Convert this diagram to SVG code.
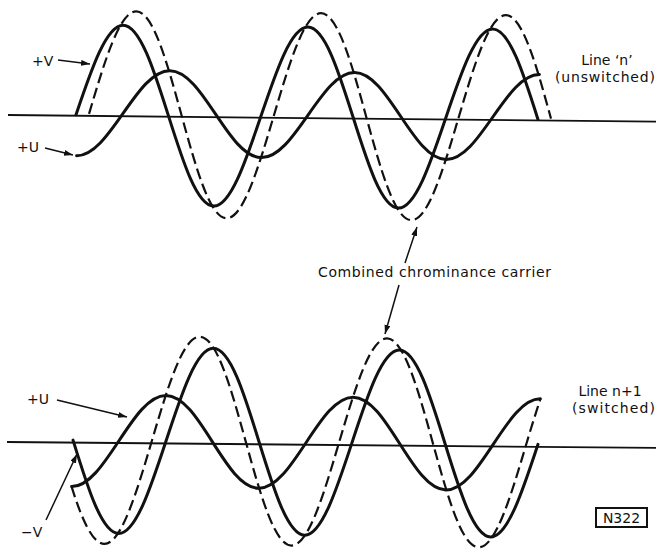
<svg xmlns="http://www.w3.org/2000/svg" width="656" height="549" viewBox="0 0 656 549">
<defs>
<marker id="ah" markerUnits="userSpaceOnUse" markerWidth="10" markerHeight="7" refX="9" refY="3" orient="auto">
<path d="M0,0 L9,3 L0,6 Z" fill="#111"/>
</marker>
</defs>
<style>
.axis{fill:none;stroke:#111;stroke-width:1.8}
.wave{fill:none;stroke:#111;stroke-width:3;stroke-linecap:round;stroke-linejoin:round}
.dash{fill:none;stroke:#111;stroke-width:2.2;stroke-dasharray:11 5}
.arr{fill:none;stroke:#111;stroke-width:1.5;marker-end:url(#ah)}
.lbl{font-family:"DejaVu Sans",sans-serif;font-size:14px;fill:#111}
</style>
<rect width="656" height="549" fill="#fff"/>
<g id="top-plot" transform="rotate(0.59 8 115)">
<line class="axis" x1="8" y1="115" x2="660" y2="115"/>
<path id="top-v" class="wave" d="M76,114 C91.07,67.9 105.48,24 122.2,24 S153.33,67.9 168.4,114 S197.88,204 214.6,204 S245.73,160.1 260.8,114 S290.28,24 307,24 S338.13,67.9 353.2,114 S382.68,204 399.4,204 S430.53,160.1 445.6,114 S475.08,24 491.8,24 S522.93,67.9 538,114"/>
<path id="top-u" class="wave" d="M77,155 C93.72,155 108.13,134.03 123.2,112 S152.68,69 169.4,69 S200.53,89.97 215.6,112 S245.08,155 261.8,155 S292.93,134.03 308,112 S337.48,69 354.2,69 S385.33,89.97 400.4,112 S429.88,155 446.6,155 S477.73,134.03 492.8,112 S522.28,69 539,69"/>
<path id="top-sum" class="dash" d="M89,113 C104.07,60.23 118.48,10 135.2,10 S166.33,60.23 181.4,113 S210.88,216 227.6,216 S258.73,165.77 273.8,113 S303.28,10 320,10 S351.13,60.23 366.2,113 S395.68,216 412.4,216 S443.53,165.77 458.6,113 S488.08,10 504.8,10 S535.93,60.23 551,113"/>
</g>
<g id="bottom-plot" transform="rotate(0.52 8 442)">
<line class="axis" x1="7" y1="442" x2="660" y2="442"/>
<path id="bot-v" class="wave" d="M73,439.5 C88.16,487.14 102.67,532.5 119.5,532.5 S150.84,487.14 166,439.5 S195.67,346.5 212.5,346.5 S243.84,391.86 259,439.5 S288.67,532.5 305.5,532.5 S336.84,487.14 352,439.5 S381.67,346.5 398.5,346.5 S429.84,391.86 445,439.5 S474.67,532.5 491.5,532.5 S522.84,487.14 538,439.5"/>
<path id="bot-u" class="wave" d="M72,486 C88.94,486 103.54,463.57 118.8,440 S148.66,394 165.6,394 S197.14,416.43 212.4,440 S242.26,486 259.2,486 S290.74,463.57 306,440 S335.86,394 352.8,394 S384.34,416.43 399.6,440 S429.46,486 446.4,486 S477.94,463.57 493.2,440 S523.06,394 540,394"/>
<path id="bot-sum" class="dash" d="M72,486 C82,517.35 93.2,543 105.2,543 C122.14,543 136.74,492.28 152,439 S181.86,335 198.8,335 S230.34,385.72 245.6,439 S275.46,543 292.4,543 S323.94,492.28 339.2,439 S369.06,335 386,335 S417.54,385.72 432.8,439 S462.66,543 479.6,543 S511.14,492.28 526.4,439 C530.93,423.2 535.47,408.2 540,394"/>
</g>
<g id="connectors">
<line class="arr" x1="58" y1="60" x2="90" y2="64"/>
<line class="arr" x1="45" y1="148" x2="73" y2="155"/>
<line class="arr" x1="57" y1="400" x2="127" y2="417"/>
<line class="arr" x1="46" y1="520" x2="77" y2="454"/>
<line class="arr" x1="405" y1="263" x2="417" y2="227"/>
<line class="arr" x1="399" y1="285" x2="385" y2="334"/>
</g>
<g id="labels">
<text id="lbl-v" class="lbl" x="32" y="66">+V</text>
<text id="lbl-u-top" class="lbl" x="17" y="152">+U</text>
<text id="lbl-u-bot" class="lbl" x="27" y="404">+U</text>
<text id="lbl-minus-v" class="lbl" x="21" y="537">−V</text>
<text id="lbl-line-n" class="lbl" x="607" y="65" text-anchor="middle">Line ‘n’</text>
<text id="lbl-unsw" class="lbl" x="555" y="82" textLength="100" lengthAdjust="spacing">(unswitched)</text>
<text id="lbl-line-n1" class="lbl" x="610" y="396" text-anchor="middle">Line n+1</text>
<text id="lbl-sw" class="lbl" x="572" y="413" textLength="83" lengthAdjust="spacing">(switched)</text>
<text id="lbl-comb" class="lbl" x="318" y="277" textLength="233" lengthAdjust="spacing">Combined chrominance carrier</text>
</g>
<g id="tag">
<rect x="596" y="508" width="51" height="19" fill="none" stroke="#111" stroke-width="2"/>
<text class="lbl" x="621.5" y="523" text-anchor="middle" font-size="15">N322</text>
</g>
</svg>
